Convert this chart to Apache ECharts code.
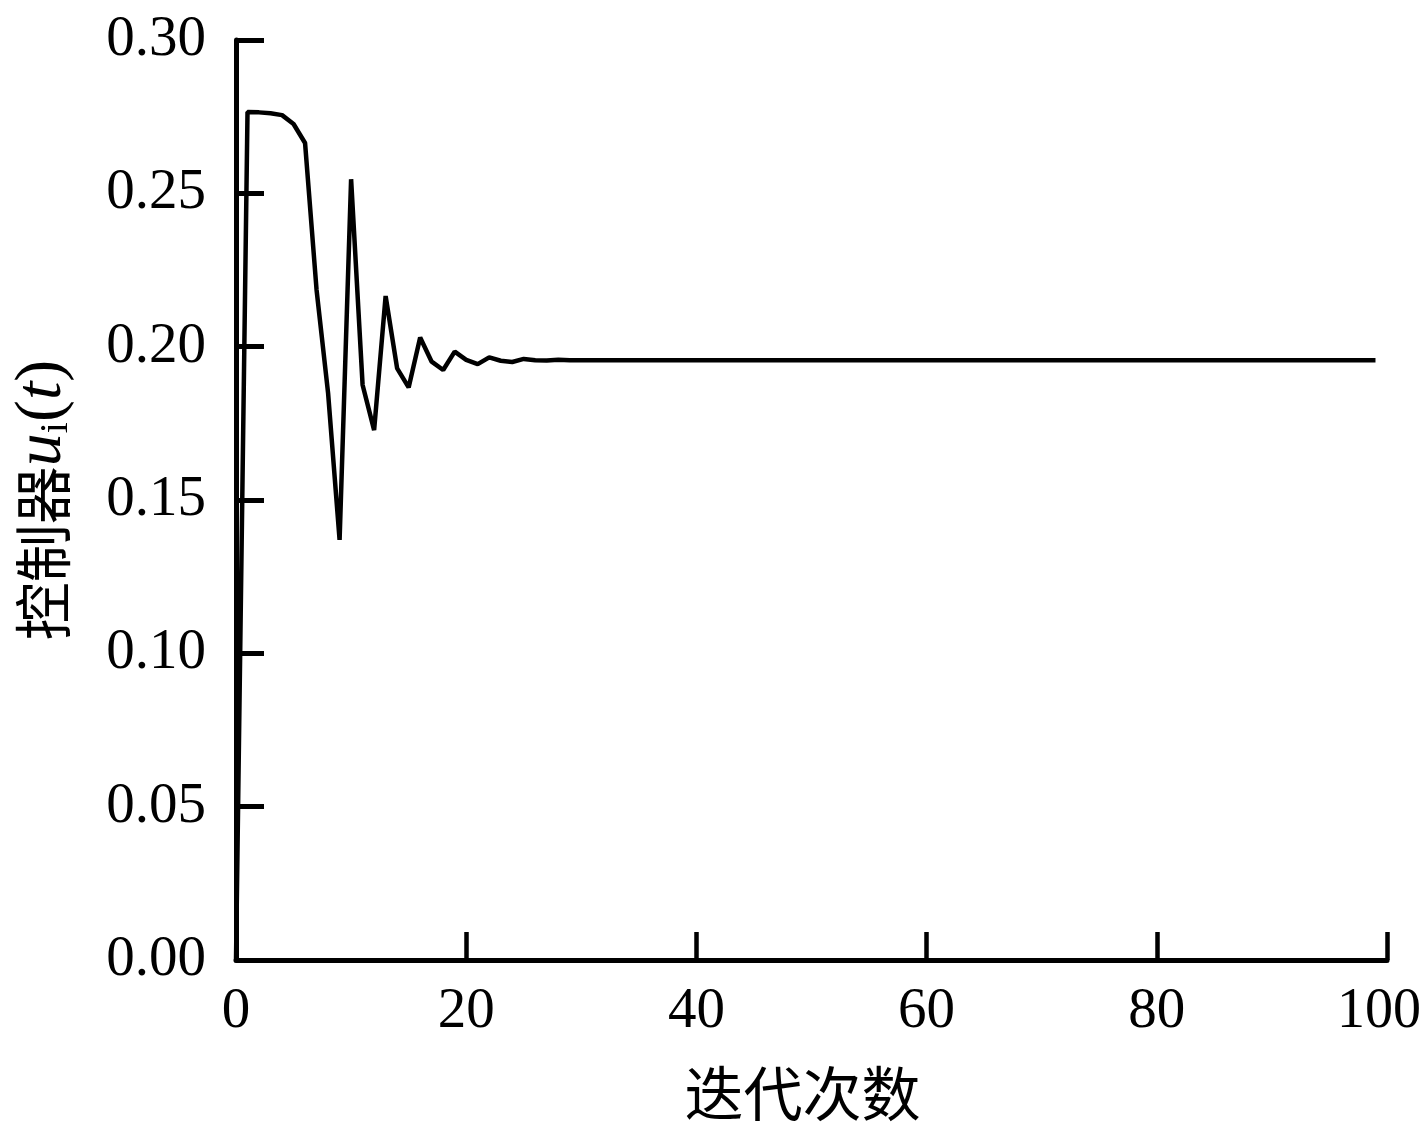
<!DOCTYPE html>
<html>
<head>
<meta charset="utf-8">
<script src="https://cdn.jsdelivr.net/npm/echarts@6/dist/echarts.min.js"></script>
<style>
html,body{margin:0;padding:0;background:#fff;}
#chart{width:1424px;height:1131px;}
</style>
</head>
<body>
<div id="chart"></div>
<script>
// Controller output u_i(t) per iteration (iteration index = array position)
const uValues = [
  0.0000, 0.2765, 0.2764, 0.2761, 0.2755, 0.2726, 0.2664, 0.2185, 0.1849, 0.1370,
  0.2546, 0.1875, 0.1728, 0.2165, 0.1929, 0.1867, 0.2030, 0.1951, 0.1924, 0.1984,
  0.1957, 0.1943, 0.1965, 0.1954, 0.1950, 0.1960, 0.1956, 0.1955, 0.1957, 0.1956,
  0.1956, 0.1956, 0.1956, 0.1956, 0.1956, 0.1956, 0.1956, 0.1956, 0.1956, 0.1956,
  0.1956, 0.1956, 0.1956, 0.1956, 0.1956, 0.1956, 0.1956, 0.1956, 0.1956, 0.1956,
  0.1956, 0.1956, 0.1956, 0.1956, 0.1956, 0.1956, 0.1956, 0.1956, 0.1956, 0.1956,
  0.1956, 0.1956, 0.1956, 0.1956, 0.1956, 0.1956, 0.1956, 0.1956, 0.1956, 0.1956,
  0.1956, 0.1956, 0.1956, 0.1956, 0.1956, 0.1956, 0.1956, 0.1956, 0.1956, 0.1956,
  0.1956, 0.1956, 0.1956, 0.1956, 0.1956, 0.1956, 0.1956, 0.1956, 0.1956, 0.1956,
  0.1956, 0.1956, 0.1956, 0.1956, 0.1956, 0.1956, 0.1956, 0.1956, 0.1956, 0.1956
];
const xAxisName = '迭代次数';
const yAxisNameCJK = '控制器';

const serif = '"Liberation Serif", "Times New Roman", serif';
const cjk = '"Noto Sans CJK SC", sans-serif';

const chart = echarts.init(document.getElementById('chart'), null, {renderer: 'canvas'});
chart.setOption({
  backgroundColor: '#ffffff',
  animation: false,
  grid: {left: 236, right: 37, top: 40, bottom: 171, containLabel: false, outerBoundsMode: 'none'},
  xAxis: {
    type: 'value', min: 0, max: 100, interval: 20,
    name: xAxisName, nameLocation: 'middle', nameGap: 104,
    nameTextStyle: {fontFamily: cjk, fontSize: 59, color: '#000', padding: [0, 18, 0, 0]},
    axisLine: {show: true, onZero: false, lineStyle: {color: '#000', width: 5}},
    axisTick: {show: true, inside: true, length: 28, lineStyle: {color: '#000', width: 4.5}},
    axisLabel: {fontFamily: serif, fontSize: 57, color: '#000', margin: 24,
      formatter: v => v === 100 ? '{e|100}' : String(v),
      rich: {e: {fontFamily: serif, fontSize: 56, color: '#000', padding: [0, 16, 0, 0]}}},
    splitLine: {show: false}
  },
  yAxis: {
    type: 'value', min: 0, max: 0.3, interval: 0.05,
    name: '{c|' + yAxisNameCJK + '}{it|u}{sub|i}{r|(}{it|t}{r|)}',
    nameLocation: 'middle', nameGap: 160, nameRotate: 90,
    nameTextStyle: {
      color: '#000',
      padding: [0, 0, 0, 0],
      rich: {
        c: {fontFamily: cjk, fontSize: 58, color: '#000'},
        it: {fontFamily: serif, fontSize: 66, fontStyle: 'italic', color: '#000'},
        r: {fontFamily: serif, fontSize: 66, color: '#000'},
        sub: {fontFamily: serif, fontSize: 40, color: '#000', verticalAlign: 'bottom', padding: [18, 0, 0, 0]}
      }
    },
    axisLine: {show: true, lineStyle: {color: '#000', width: 5}},
    axisTick: {show: true, inside: true, length: 28, lineStyle: {color: '#000', width: 5}},
    axisLabel: {fontFamily: serif, fontSize: 57, color: '#000', margin: 30,
      formatter: v => v.toFixed(2)},
    splitLine: {show: false}
  },
  series: [{
    type: 'line',
    data: uValues.map((v, i) => [i, v]),
    showSymbol: false,
    symbol: 'none',
    lineStyle: {color: '#000', width: 4.5},
    clip: false
  }]
});
</script>
</body>
</html>
